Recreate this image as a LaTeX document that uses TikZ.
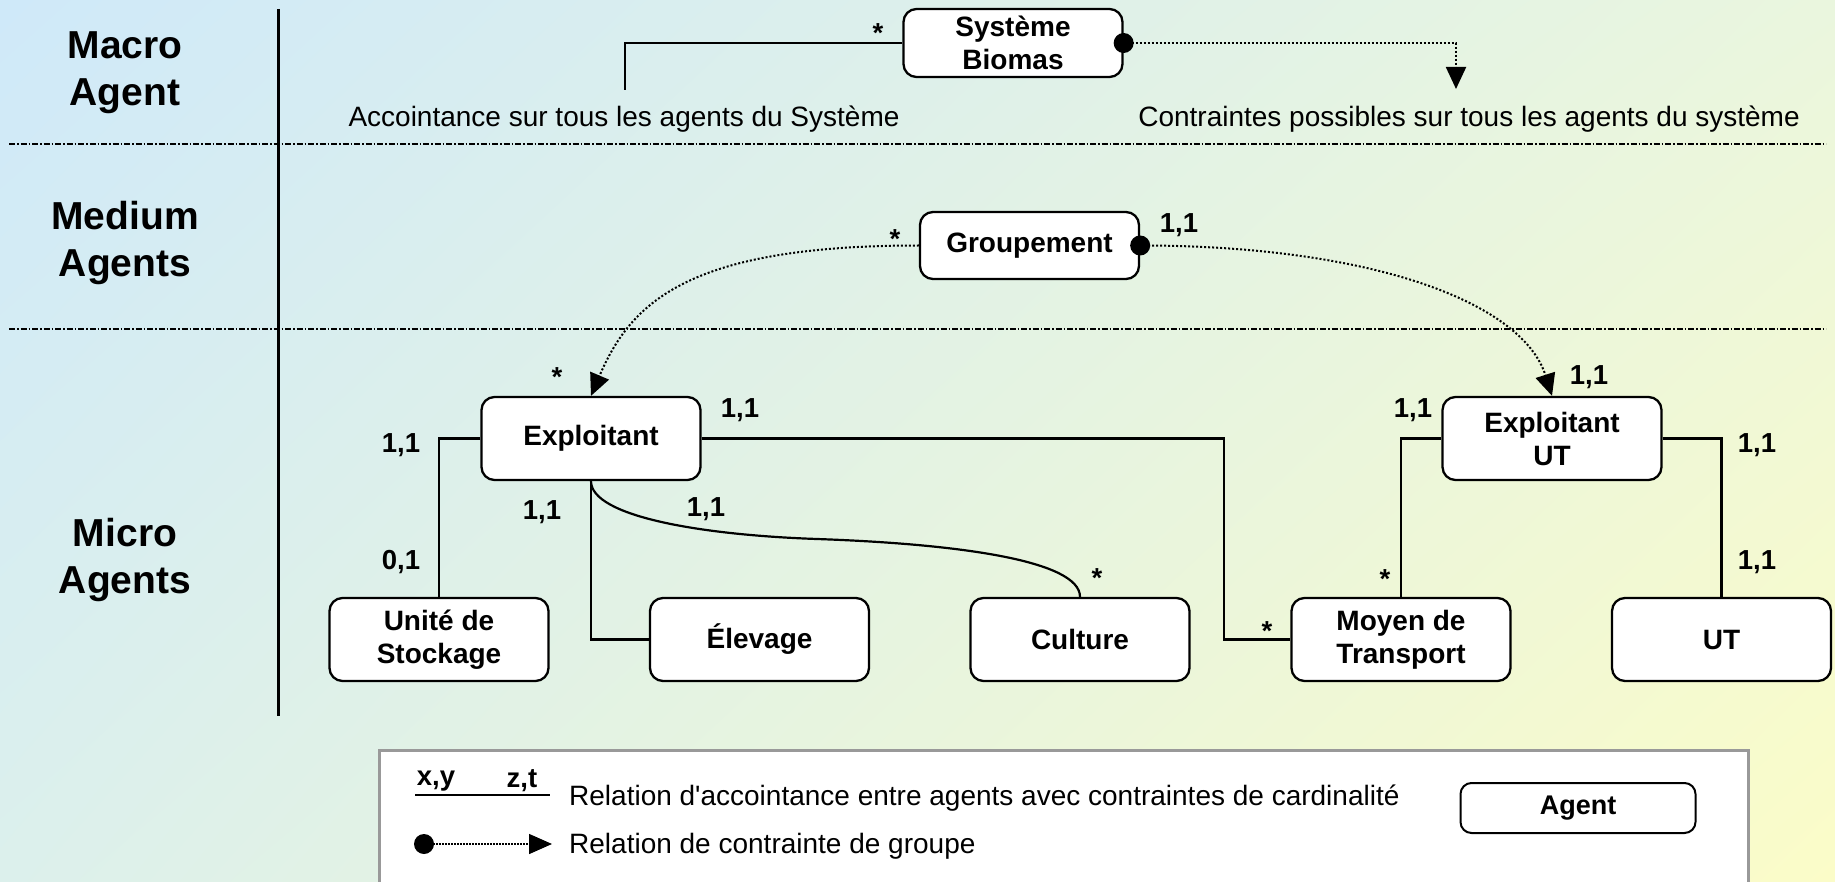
\documentclass[tikz,border=0pt]{standalone}
\usepackage{fontspec}
\setmainfont{Liberation Sans}[Ligatures=TeXOff]
\usetikzlibrary{arrows.meta,calc,shadings}
\definecolor{bgTL}{HTML}{CFE9F9}
\definecolor{bgTR}{HTML}{EAF6DE}
\definecolor{bgBL}{HTML}{DCF0EC}
\definecolor{bgBR}{HTML}{FBFCC8}
\definecolor{lgborder}{HTML}{999999}
\begin{document}
\begin{tikzpicture}[x=1pt,y=-1pt,
  agent/.style={draw, line width=2.3pt, rounded corners=13pt, fill=white,
    minimum width=219pt, minimum height=83pt, align=center, inner sep=0pt,
    font=\fontsize{28}{33}\selectfont\bfseries},
  header/.style={align=center, font=\fontsize{39}{47}\selectfont\bfseries},
  card/.style={font=\fontsize{27.5}{30}\selectfont\bfseries, inner sep=0pt},
  lbl/.style={font=\fontsize{28}{32}\selectfont, inner sep=0pt},
  lgtxt/.style={font=\fontsize{28}{30}\selectfont, inner sep=0pt, anchor=west},
  link/.style={line width=2.2pt},
  grpc/.style={line width=2pt, dash pattern=on 2pt off 2pt,
    -{Triangle[width=20pt,length=22pt]}},
  sep/.style={line width=1.2pt, dash pattern=on 6pt off 2pt on 1.5pt off 2pt},
]
\clip (0,0) rectangle (1835,882);
\shade[upper left=bgTL, upper right=bgTR, lower left=bgBL, lower right=bgBR]
  (0,0) rectangle (1835,882);

% layer separators
\coordinate (vTop) at (278.5,9);
\coordinate (vBot) at (278.5,716);
\draw[line width=2.5pt] (vTop) -- (vBot);
\coordinate (s1a) at (9,144);
\coordinate (s1b) at (1826,144);
\coordinate (s2a) at (9,329);
\coordinate (s2b) at (1826,329);
\draw[sep] (s1a) -- (s1b);
\draw[sep] (s2a) -- (s2b);

% headers
\node[header] (hMacro) at (125,72.5) {Macro\\Agent};
\node[header] (hMedium) at (125,243.5) {Medium\\Agents};
\node[header] (hMicro) at (125,559.5) {Micro\\Agents};

% agents
\node[agent, minimum height=68pt] (SB) at (1013,43) {Système\\Biomas};
\node[agent, minimum height=67pt] (Grp) at (1029.5,245.5) {Groupement};
\node[agent] (Exp) at (591,438.5) {Exploitant};
\node[agent] (EUT) at (1552,438.5) {Exploitant\\UT};
\node[agent] (Uni) at (439,639.5) {Unité de\\Stockage};
\node[agent] (Ele) at (759.5,639.5) {Élevage};
\node[agent] (Cul) at (1080,639.5) {Culture};
\node[agent] (Moy) at (1401,639.5) {Moyen de\\Transport};
\node[agent] (UT) at (1721.5,639.5) {UT};

% macro level
\coordinate (cAcc) at (625,90);
\draw[link] (SB.west) -| (cAcc);
\node[card] (stSB) at (878,33) {*};
\node[lbl] (tAcc) at (624,119) {Accointance sur tous les agents du Système};
\coordinate (cCon) at (1456,89);
\draw[grpc] (SB.east) -| (cCon);
\fill (SB.east) circle (10);
\node[lbl] (tCon) at (1469,119) {Contraintes possibles sur tous les agents du système};

% medium level
\draw[grpc] (Grp.west) .. controls +(-230,0) and +(40,-94) .. (Exp.north);
\draw[grpc] (Grp.east) .. controls +(230,0) and +(-30,-94) .. (EUT.north);
\fill (Grp.east) circle (10);
\node[card] (stGrp) at (895,239) {*};
\node[card] (c11Grp) at (1179,225) {1,1};
\node[card] (stExpT) at (557,377) {*};
\node[card] (c11EUTt) at (1589,377) {1,1};

% micro level links
\draw[link] (Exp.west) -| (Uni.north);
\draw[link] (Exp.south) |- (Ele.west);
\coordinate (cMid) at (817,539);
\draw[link] (Exp.south) .. controls +(0,35) and +(-117,-4) .. (cMid)
  .. controls +(143,5) and +(0,-36) .. (Cul.north);
\coordinate (cJ) at (1224,438.5);
\draw[link] (Exp.east) -- (cJ) |- (Moy.west);
\draw[link] (EUT.west) -| (Moy.north);
\draw[link] (EUT.east) -| (UT.north);

\node[card] (c11ExpL) at (401,445) {1,1};
\node[card] (c01Uni) at (401,562) {0,1};
\node[card] (c11ExpB) at (542,512) {1,1};
\node[card] (c11ExpC) at (706,509) {1,1};
\node[card] (stCul) at (1097,578) {*};
\node[card] (c11ExpR) at (740,410) {1,1};
\node[card] (stMoyL) at (1267,631) {*};
\node[card] (c11EUTL) at (1413,410) {1,1};
\node[card] (stMoyT) at (1385,579) {*};
\node[card] (c11EUTR) at (1757,445) {1,1};
\node[card] (c11UT) at (1757,562) {1,1};

% legend
\node[draw=lgborder, line width=2.5pt, fill=white, minimum width=1369pt,
  minimum height=160pt, anchor=north west, inner sep=0pt] (leg) at (378,749) {};
\node[card] (lxy) at (436,781) {x,y};
\node[card] (lzt) at (522,781) {z,t};
\coordinate (ulA) at (415,795);
\coordinate (ulB) at (550,795);
\draw[line width=2pt] (ulA) -- (ulB);
\node[lgtxt] (lt1) at (569,798) {Relation d'accointance entre agents avec contraintes de cardinalité};
\coordinate (ldot) at (424,844);
\coordinate (larr) at (552,844);
\draw[line width=1.5pt, dash pattern=on 1.5pt off 1.5pt,
  -{Triangle[width=20pt,length=23pt]}] (ldot) -- (larr);
\fill (ldot) circle (10);
\node[lgtxt] (lt2) at (569,846) {Relation de contrainte de groupe};
\node[agent, line width=2pt, minimum width=235pt, minimum height=50pt,
  rounded corners=11pt, font=\fontsize{27}{30}\selectfont\bfseries] (lAgent) at (1578,808) {Agent};
\end{tikzpicture}
\end{document}
